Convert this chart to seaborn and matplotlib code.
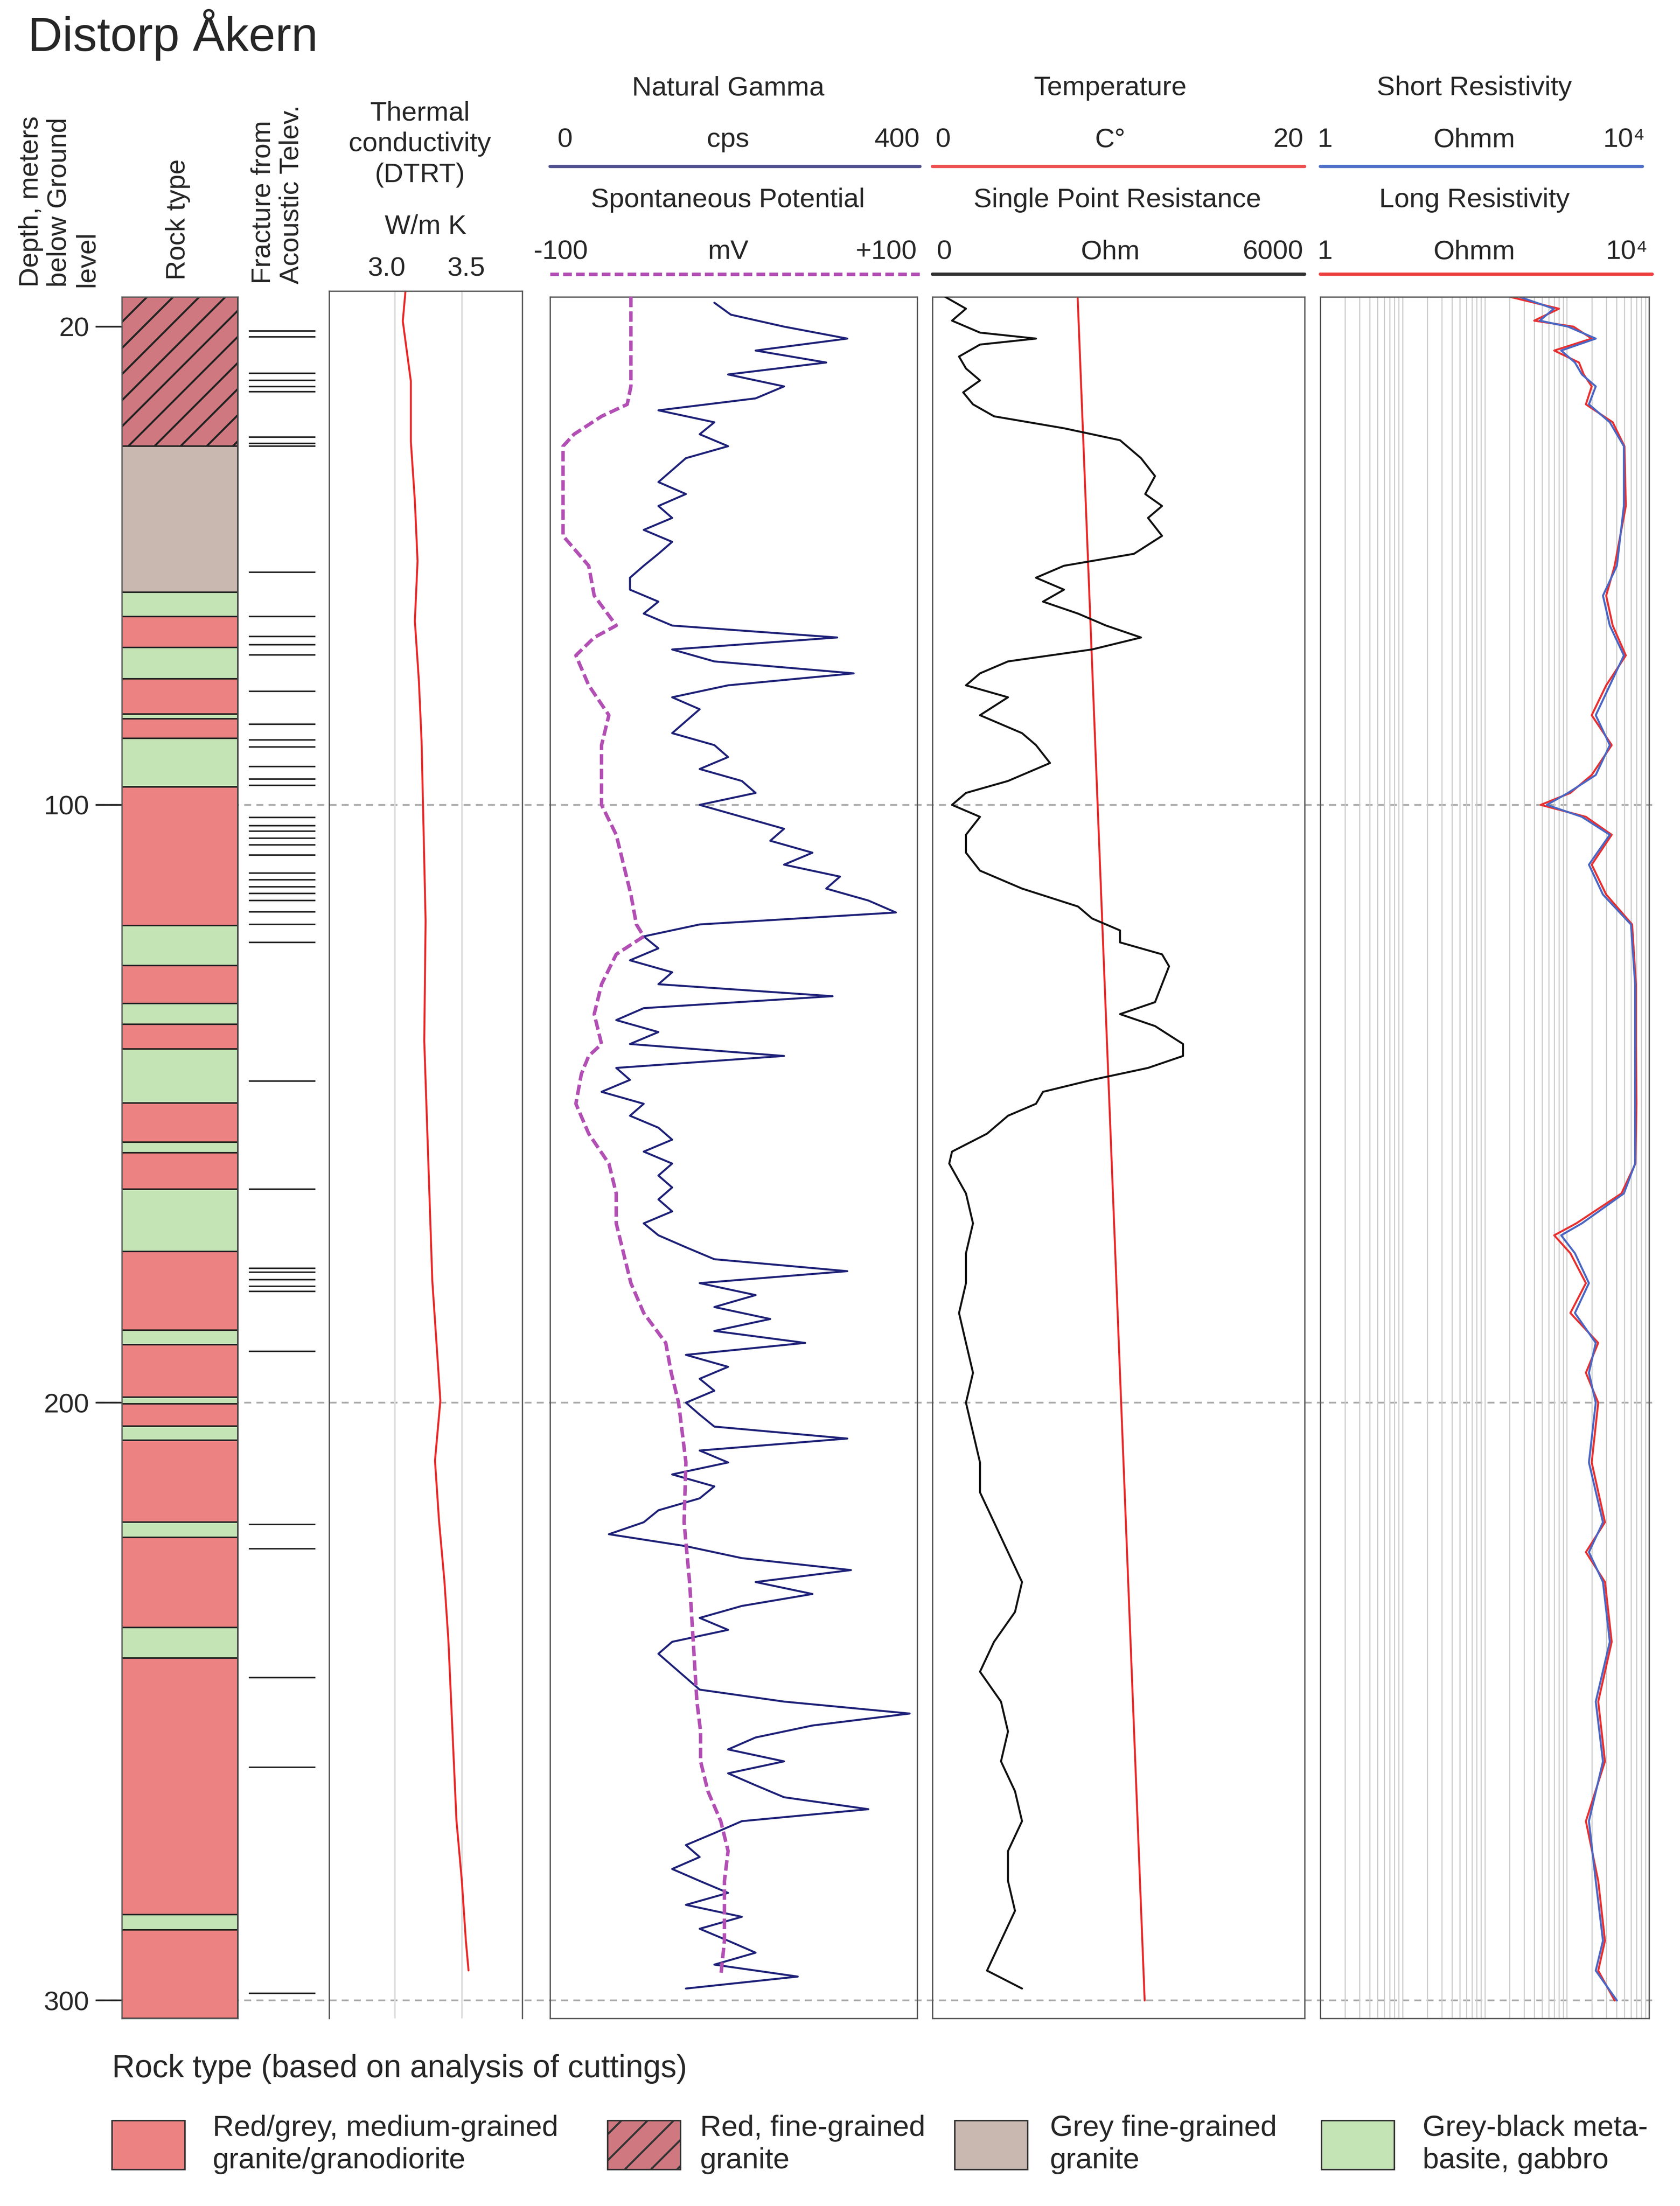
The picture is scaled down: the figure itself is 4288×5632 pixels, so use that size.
"""Distorp Akern borehole log: rock type, fractures, thermal conductivity and geophysical logs."""
import matplotlib.pyplot as plt
import numpy as np
import seaborn as sns
from matplotlib.lines import Line2D
from matplotlib.patches import Rectangle
from matplotlib.ticker import LogLocator

# ---- data -----------------------------------------------------------------
rock_top = [15, 40, 64.4, 68.5, 73.7, 78.9, 84.8, 85.6, 88.9, 97, 120.2, 126.9, 133.2,
            136.7, 140.8, 149.9, 156.4, 158.2, 164.3, 174.7, 187.9, 190.3, 199.1, 200.2,
            203.9, 206.3, 220, 222.5, 237.6, 242.7, 285.6, 288.2]
rock_kind = ["fine", "grey"] + ["green", "red"] * 15
rock_bottom_end = 303

fracture_depth = [20.7, 21.7, 27.8, 29, 30, 30.9, 38.5, 39.5, 40, 61.1, 68.5, 71.8, 73.2,
                  74.9, 81, 86.5, 89.1, 90.3, 93.6, 95.7, 96.7, 102.1, 103.5, 104.4, 105.6,
                  106.7, 108.4, 111.4, 112.5, 113.7, 114.8, 116, 117.9, 120, 123, 146.2,
                  164.3, 177.5, 178.2, 179.4, 180.5, 181.4, 191.4, 220.4, 224.4, 246, 261,
                  298.8]

tc_depth = [15, 20, 30, 40, 50, 60, 70, 80, 90, 100, 120, 140, 160, 180, 200, 210, 220,
            230, 240, 250, 260, 270, 280, 290, 295]
tc_value = [3.08, 3.06, 3.12, 3.12, 3.15, 3.17, 3.15, 3.18, 3.20, 3.21, 3.23, 3.22, 3.25,
            3.28, 3.34, 3.30, 3.33, 3.37, 3.40, 3.42, 3.44, 3.46, 3.50, 3.53, 3.55]

gamma_depth = np.arange(16, 300, 2)
gamma_cps = [179, 197, 255, 324, 224, 301, 194, 255, 224, 118,
             179, 163, 194, 148, 133, 118, 148, 118, 133, 102,
             133, 118, 102, 87, 87, 118, 102, 133, 313, 133,
             179, 331, 194, 133, 163, 148, 133, 179, 194, 163,
             209, 224, 163, 209, 255, 240, 286, 255, 316, 301,
             347, 377, 163, 102, 118, 87, 133, 118, 308, 102,
             72, 118, 87, 255, 72, 87, 56, 102, 87, 118,
             133, 102, 133, 118, 133, 118, 133, 102, 118, 148,
             179, 324, 163, 224, 179, 240, 179, 278, 148, 194,
             163, 179, 148, 163, 179, 324, 163, 194, 133, 179,
             163, 118, 102, 64, 148, 209, 328, 224, 286, 209,
             163, 194, 133, 118, 133, 148, 163, 255, 392, 286,
             224, 194, 255, 194, 224, 255, 347, 209, 179, 148,
             163, 133, 163, 194, 148, 209, 163, 194, 224, 179,
             270, 148]

sp_depth = [15, 20, 25, 30, 33, 35, 38, 40, 45, 50, 55, 60, 65, 70, 72, 75, 80, 85, 90, 95,
            100, 105, 110, 115, 120, 122, 125, 130, 135, 140, 142, 145, 150, 155, 160, 165,
            170, 175, 180, 185, 190, 195, 200, 210, 220, 230, 240, 250, 255, 260, 265, 270,
            275, 280, 290, 296]
sp_mv = [-56, -56, -56, -56, -58, -72, -87, -93, -93, -93, -93, -79, -76, -64, -76, -86,
         -79, -68, -72, -72, -72, -64, -60, -56, -53, -49, -64, -72, -76, -72, -79, -83,
         -86, -79, -68, -64, -64, -60, -56, -49, -37, -34, -30, -26, -27, -24, -22, -20,
         -18, -18, -14, -7, -3, -5, -5, -7]

temp_depth = [15, 300]
temp_c = [7.8, 11.4]

spr_depth = [15, 17, 19, 21, 22, 23, 25, 27, 29, 31, 33, 35, 37, 39, 42, 45, 48, 50, 52, 55,
             58, 60, 62, 64, 66, 68, 70, 72, 74, 76, 78, 80, 82, 85, 88, 90, 93, 96, 98, 100,
             102, 105, 108, 111, 114, 117, 119, 121, 123, 125, 127, 130, 133, 135, 137, 140,
             142, 144, 146, 148, 150, 152, 155, 158, 160, 165, 170, 175, 180, 185, 190, 195,
             200, 205, 210, 215, 220, 225, 230, 235, 240, 245, 250, 255, 260, 265, 270, 275,
             280, 285, 290, 295, 298]
spr_ohm = [203, 541, 316, 767, 1669, 767, 429, 541, 767, 496, 654, 993, 2120, 3023, 3361,
           3587, 3429, 3700, 3474, 3700, 3248, 2120, 1669, 2120, 1782, 2346, 2797, 3361,
           2572, 1218, 767, 541, 1218, 767, 1444, 1669, 1895, 1218, 541, 316, 767, 541, 541,
           767, 1444, 2346, 2572, 3023, 3023, 3700, 3813, 3700, 3587, 3023, 3587, 4038, 4038,
           3474, 2572, 1782, 1669, 1218, 880, 316, 271, 541, 654, 541, 541, 429, 541, 654,
           541, 654, 767, 767, 993, 1218, 1444, 1331, 993, 767, 1105, 1218, 1105, 1331,
           1444, 1218, 1218, 1331, 1105, 880, 1444]

res_depth = [15, 17, 19, 20, 22, 24, 26, 28, 30, 33, 36, 40, 50, 60, 65, 70, 75, 80, 85, 90,
             95, 98, 100, 102, 105, 110, 115, 120, 130, 140, 150, 160, 165, 170, 172, 175,
             180, 185, 190, 195, 200, 210, 220, 225, 230, 240, 250, 260, 270, 280, 290, 295,
             300]
short_res = [263, 692, 468, 1030, 2240, 850, 1250, 1520, 2240, 1850, 3320, 4920, 4920, 4050,
             2740, 3320, 4920, 3320, 2240, 3320, 2240, 1030, 570, 1520, 3320, 1850, 2740,
             6000, 6740, 6740, 6740, 6740, 4920, 1520, 850, 1250, 1850, 1250, 2240, 1850,
             2240, 1850, 2740, 1850, 2740, 3320, 2240, 2740, 1850, 2240, 2740, 2240, 4050]
long_res = [200, 800, 400, 1200, 2000, 700, 1400, 1600, 2000, 1700, 3600, 5000, 5200, 3800,
            3000, 3600, 5200, 3000, 2000, 3500, 2000, 1100, 480, 1700, 3500, 2000, 3000,
            6200, 6900, 6900, 7000, 6800, 4600, 1300, 700, 1100, 1700, 1100, 2400, 1700,
            2400, 2000, 2900, 1700, 2900, 3500, 2400, 2900, 1700, 2400, 2900, 2400, 3800]

rock_colors = {"red": "#ec8282", "fine": "#cf7880", "grey": "#c8b8b0", "green": "#c4e4b6"}
legend_items = [("red", "Red/grey, medium-grained\ngranite/granodiorite"),
                ("fine", "Red, fine-grained\ngranite"),
                ("grey", "Grey fine-grained\ngranite"),
                ("green", "Grey-black meta-\nbasite, gabbro")]

# ---- layout helpers (reference pixel grid 1200 x 1576) -----------------------
W, H = 1200, 1576
TOP, BOT = 212, 1442
DEPTH_LIM = (303, 15)


def box(x0, y0, x1, y1):
    return [x0 / W, 1 - y1 / H, (x1 - x0) / W, (y1 - y0) / H]


def fx(x):
    return x / W


def fy(y):
    return 1 - y / H


def hline(fig, x0, x1, y, **kw):
    fig.add_artist(Line2D([fx(x0), fx(x1)], [fy(y), fy(y)], transform=fig.transFigure, **kw))


def text(fig, x, y, s, **kw):
    kw.setdefault("fontsize", 12.5)
    kw.setdefault("ha", "center")
    kw.setdefault("va", "center")
    fig.text(fx(x), fy(y), s, **kw)


def panel(fig, x0, x1, y0=TOP, y1=BOT):
    ax = fig.add_axes(box(x0, y0, x1, y1))
    ax.set_facecolor("none")
    ax.set_ylim(DEPTH_LIM)
    for s in ax.spines.values():
        s.set_linewidth(0.6)
        s.set_color("#555555")
    return ax


def clean(ax):
    ax.set_xticks([])
    ax.set_yticks([])
    ax.set_xlabel("")
    ax.set_ylabel("")
    ax.set_ylim(DEPTH_LIM)


def overlay(ax):
    """Second x-scale on the same panel, without its own frame."""
    ax2 = ax.twiny()
    for s in ax2.spines.values():
        s.set_visible(False)
    return ax2


sns.set_theme(style="white")
plt.rcParams["font.family"] = ["Liberation Sans", "DejaVu Sans"]
plt.rcParams["hatch.linewidth"] = 0.9

fig = plt.figure(figsize=(10.72, 14.08), dpi=400)

# background: dashed depth markers
bg = fig.add_axes(box(0, TOP, W, BOT))
bg.set_xlim(0, W)
bg.set_ylim(DEPTH_LIM)
bg.axis("off")
bg.hlines([100, 200, 300], 70, 1180, colors="#aaaaaa", linestyles=(0, (4, 3)), lw=0.8)

text(fig, 20, 25, "Distorp Åkern", fontsize=22, ha="left")

# ---- rock column -----------------------------------------------------------
ax = panel(fig, 87, 170)
bottoms = rock_top[1:] + [rock_bottom_end]
for top, bottom, kind in zip(rock_top, bottoms, rock_kind):
    ax.bar(0.5, bottom - top, bottom=top, width=1, color=rock_colors[kind],
           edgecolor="#222222", lw=0.7, hatch="//" if kind == "fine" else None)
ax.set_xlim(0, 1)
ax.set_xticks([])
ax.set_yticks([20, 100, 200, 300])
ax.tick_params(axis="y", left=True, length=12, width=0.8, labelsize=12.5, pad=3)
ax.set_ylim(DEPTH_LIM)

text(fig, 42, 205, "Depth, meters\nbelow Ground\nlevel", rotation=90, va="bottom",
     multialignment="left", linespacing=1.15)
text(fig, 127, 200, "Rock type", rotation=90, va="bottom")
text(fig, 198, 203, "Fracture from\nAcoustic Telev.", rotation=90, va="bottom",
     multialignment="left", linespacing=1.15)

# ---- fractures ---------------------------------------------------------------
ax = fig.add_axes(box(175, TOP, 228, BOT))
ax.set_facecolor("none")
ax.axis("off")
ax.hlines(fracture_depth, 0.05, 0.95, colors="#222222", lw=0.7)
ax.set_xlim(0, 1)
ax.set_ylim(DEPTH_LIM)

# ---- thermal conductivity ------------------------------------------------------
ax = panel(fig, 235, 373, 208, BOT)
sns.lineplot(x=tc_value, y=tc_depth, orient="y", estimator=None, sort=False, ax=ax,
             color="#e82828", lw=0.9)
clean(ax)
ax.set_xlim(2.51, 3.95)
ax.spines["bottom"].set_visible(False)
for v in (3.0, 3.5):
    ax.axvline(v, color="#dddddd", lw=0.7, zorder=0)
text(fig, 300, 103, "Thermal\nconductivity\n(DTRT)", linespacing=1.3)
text(fig, 304, 162, "W/m K")
text(fig, 276, 192, "3.0")
text(fig, 333, 192, "3.5")

# ---- natural gamma / spontaneous potential --------------------------------------
ax = panel(fig, 393, 655)
sns.lineplot(x=gamma_cps, y=gamma_depth, orient="y", estimator=None, sort=False, ax=ax,
             color="#1e2178", lw=0.9)
clean(ax)
ax.set_xlim(0, 400)
ax2 = overlay(ax)
sns.lineplot(x=sp_mv, y=sp_depth, orient="y", estimator=None, sort=False, ax=ax2,
             color="#b24fb4", lw=1.6, linestyle=(0, (3, 1.2)))
clean(ax2)
ax2.set_xlim(-100, 100)

text(fig, 520, 63, "Natural Gamma")
text(fig, 398, 100, "0", ha="left")
text(fig, 520, 100, "cps")
text(fig, 657, 100, "400", ha="right")
hline(fig, 393, 657, 119, color="#505090", lw=1.5)
text(fig, 520, 143, "Spontaneous Potential")
text(fig, 381, 180, "-100", ha="left")
text(fig, 520, 180, "mV")
text(fig, 655, 180, "+100", ha="right")
hline(fig, 393, 657, 196, color="#b24fb4", lw=1.6, linestyle=(0, (2.5, 1.2)))

# ---- temperature / single point resistance -------------------------------------
ax = panel(fig, 666, 932)
sns.lineplot(x=temp_c, y=temp_depth, orient="y", estimator=None, sort=False, ax=ax,
             color="#e82828", lw=0.9)
clean(ax)
ax.set_xlim(0, 20)
ax2 = overlay(ax)
sns.lineplot(x=spr_ohm, y=spr_depth, orient="y", estimator=None, sort=False, ax=ax2,
             color="#111111", lw=0.9)
clean(ax2)
ax2.set_xlim(0, 6000)

text(fig, 793, 63, "Temperature")
text(fig, 668, 100, "0", ha="left")
text(fig, 793, 100, "C°")
text(fig, 931, 100, "20", ha="right")
hline(fig, 666, 932, 119, color="#ee5050", lw=1.5)
text(fig, 798, 143, "Single Point Resistance")
text(fig, 669, 180, "0", ha="left")
text(fig, 793, 180, "Ohm")
text(fig, 931, 180, "6000", ha="right")
hline(fig, 666, 932, 196, color="#333333", lw=1.5)

# ---- short / long resistivity ----------------------------------------------------
ax = panel(fig, 943, 1178)
ax.set_xscale("log")
sns.lineplot(x=long_res, y=res_depth, orient="y", estimator=None, sort=False, ax=ax,
             color="#e83030", lw=0.9)
sns.lineplot(x=short_res, y=res_depth, orient="y", estimator=None, sort=False, ax=ax,
             color="#4a66c4", lw=0.9)
ax.set_xlim(1, 1e4)
ax.xaxis.set_major_locator(LogLocator(base=10, numticks=10))
ax.xaxis.set_minor_locator(LogLocator(base=10, subs=np.arange(2, 10), numticks=50))
ax.grid(True, which="both", axis="x", color="#cccccc", lw=0.5)
ax.set_axisbelow(True)
ax.tick_params(axis="x", which="both", bottom=False, labelbottom=False)
ax.set_yticks([])
ax.set_xlabel("")
ax.set_ylabel("")
ax.set_ylim(DEPTH_LIM)

text(fig, 1053, 63, "Short Resistivity")
text(fig, 941, 100, "1", ha="left")
text(fig, 1053, 100, "Ohmm")
text(fig, 1175, 100, "10⁴", ha="right")
hline(fig, 943, 1173, 119, color="#5070c8", lw=1.5)
text(fig, 1053, 143, "Long Resistivity")
text(fig, 941, 180, "1", ha="left")
text(fig, 1053, 180, "Ohmm")
text(fig, 1177, 180, "10⁴", ha="right")
hline(fig, 943, 1180, 196, color="#ee4040", lw=1.5)

# ---- legend -----------------------------------------------------------------------
text(fig, 80, 1478, "Rock type (based on analysis of cuttings)", ha="left", fontsize=14.5)
for (kind, label), px, tx in zip(legend_items, [80, 434, 682, 944], [152, 500, 750, 1016]):
    fig.add_artist(Rectangle((fx(px), fy(1550)), 52 / W, 35 / H, transform=fig.transFigure,
                             facecolor=rock_colors[kind], edgecolor="#333333", lw=0.7,
                             hatch="//" if kind == "fine" else None))
    text(fig, tx, 1532, label, ha="left", multialignment="left", fontsize=13.5,
         linespacing=1.25)

fig.savefig("out.png", dpi=400)
